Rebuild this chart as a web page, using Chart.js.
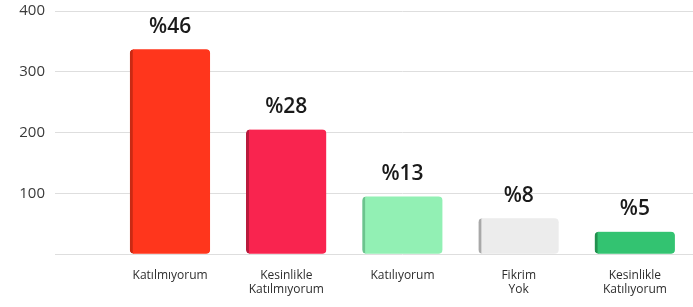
<!DOCTYPE html>
<html lang="tr">
<head>
<meta charset="UTF-8">
<title>Anket Sonuçları</title>
<script src="https://cdn.jsdelivr.net/npm/chart.js"></script>
<style>
    html, body {
        margin: 0;
        padding: 0;
        background: #ffffff;
        overflow: hidden;
    }
    .chart-box {
        width: 693px;
        height: 315px;
        margin-top: -8px;
    }
</style>
</head>
<body>
<div class="chart-box"><canvas id="chart"></canvas></div>

<script>
    const categories = ['Katılmıyorum', ['Kesinlikle', 'Katılmıyorum'], 'Katılıyorum', ['Fikrim', 'Yok'], ['Kesinlikle', 'Katılıyorum']];
    const percentLabels = ['%46', '%28', '%13', '%8', '%5'];
    const counts = [337, 205, 95, 59, 37];
    const barColors = ['#ff361c', '#f9244f', '#92f0b4', '#ececec', '#33c371'];
    const edgeColors = ['#c92a14', '#b81a3c', '#6cc48e', '#a8a8a8', '#23914f'];

    // percent text above each bar
    const percentPlugin = {
        id: 'percentPlugin',
        afterDatasetsDraw(chart) {
            const ctx = chart.ctx;
            const meta = chart.getDatasetMeta(0);
            ctx.save();
            ctx.font = '600 21px "Open Sans", sans-serif';
            ctx.fillStyle = '#1a1a1a';
            ctx.textAlign = 'center';
            ctx.textBaseline = 'bottom';
            meta.data.forEach((bar, i) => {
                ctx.fillText(percentLabels[i], bar.x, bar.y - 12);
            });
            ctx.restore();
        }
    };

    new Chart(document.getElementById('chart'), {
        type: 'bar',
        data: {
            labels: categories,
            datasets: [{
                data: counts,
                backgroundColor: barColors,
                borderColor: edgeColors,
                borderWidth: {left: 3, right: 0, top: 0, bottom: 0},
                borderSkipped: false,
                borderRadius: 4,
                barThickness: 80
            }]
        },
        options: {
            responsive: true,
            maintainAspectRatio: false,
            animation: false,
            layout: {
                padding: {top: 0, right: 0, bottom: 4, left: 0}
            },
            plugins: {
                legend: {display: false},
                tooltip: {enabled: false}
            },
            scales: {
                x: {
                    grid: {display: false},
                    border: {display: false},
                    ticks: {
                        color: '#2e2e2e',
                        font: {family: '"Open Sans", sans-serif', size: 12},
                        maxRotation: 0,
                        padding: 6
                    }
                },
                y: {
                    min: 0,
                    max: 400,
                    afterFit(scale) {
                        scale.width = 112;
                    },
                    grid: {
                        color: '#dedede',
                        lineWidth: 1,
                        tickLength: 57,
                        tickColor: '#dedede'
                    },
                    border: {display: false},
                    ticks: {
                        stepSize: 100,
                        padding: 10,
                        color: '#3a3a3a',
                        font: {family: '"Open Sans", sans-serif', size: 15},
                        callback: v => v === 0 ? '' : v
                    }
                }
            }
        },
        plugins: [percentPlugin]
    });
</script>
</body>
</html>
